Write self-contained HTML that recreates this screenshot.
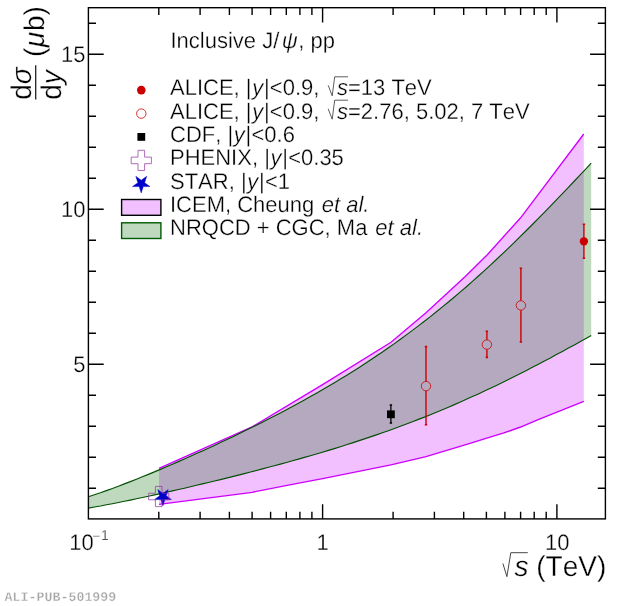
<!DOCTYPE html>
<html><head><meta charset="utf-8"><title>Inclusive J/psi cross section vs sqrt(s)</title>
<style>
html,body{margin:0;padding:0;background:#fff;}
svg{display:block;}
text{text-rendering:geometricPrecision;stroke:#fff;stroke-width:0.3px;font-family:"Liberation Sans",sans-serif;fill:#000;font-kerning:none;}
.lg{font-size:22px;}
.tk{font-size:22px;}
.tt{font-size:28px;}
.it{font-style:italic;}
.mono{font-family:"Liberation Mono","DejaVu Sans Mono",monospace;font-weight:bold;font-size:13.3px;fill:#a6a6a6;}
</style></head><body>
<svg width="620" height="606" viewBox="0 0 620 606">
<rect width="620" height="606" fill="#fff"/>

<polygon points="159.0,468.4 252.1,426.9 322.6,384.6 391.0,342.2 426.0,312.8 465.0,276.8 487.3,254.7 520.6,217.8 583.8,134.0 583.8,401.3 540.0,418.8 520.6,427.0 503.9,432.9 486.8,438.2 470.0,443.4 426.0,456.6 391.0,464.9 322.6,478.6 291.0,484.6 252.1,492.3 159.0,504.3" fill="rgba(204,0,255,0.25)"/>
<polyline points="159.0,468.4 252.1,426.9 322.6,384.6 391.0,342.2 426.0,312.8 465.0,276.8 487.3,254.7 520.6,217.8 583.8,134.0" fill="none" stroke="#cc00ff" stroke-width="1.35"/>
<polyline points="159.0,504.3 252.1,492.3 291.0,484.6 322.6,478.6 391.0,464.9 426.0,456.6 470.0,443.4 486.8,438.2 503.9,432.9 520.6,427.0 540.0,418.8 583.8,401.3" fill="none" stroke="#cc00ff" stroke-width="1.35"/>
<polygon points="88.4,496.8 94.4,494.8 100.4,492.8 106.4,490.6 112.4,488.5 118.4,486.2 124.4,483.9 130.4,481.6 136.4,479.2 142.4,476.8 148.4,474.4 154.4,471.9 160.4,469.4 166.4,466.8 172.4,464.2 178.4,461.6 184.4,459.0 190.4,456.3 196.4,453.6 202.4,450.9 208.4,448.2 214.4,445.4 220.4,442.6 226.4,439.8 232.4,436.9 238.4,434.0 244.4,431.1 250.4,428.1 256.4,425.2 262.4,422.2 268.4,419.1 274.4,416.0 280.4,412.9 286.4,409.7 292.4,406.5 298.4,403.3 304.4,400.0 310.4,396.6 316.4,393.2 322.4,389.8 328.4,386.3 334.4,382.7 340.4,379.1 346.4,375.4 352.4,371.7 358.4,367.9 364.4,364.0 370.4,360.0 376.4,356.0 382.4,352.0 388.4,347.8 394.4,343.6 400.4,339.3 406.4,334.9 412.4,330.4 418.4,325.9 424.4,321.3 430.4,316.6 436.4,311.8 442.4,306.9 448.4,302.0 454.4,297.0 460.4,291.9 466.4,286.7 472.4,281.4 478.4,276.0 484.4,270.6 490.4,265.1 496.4,259.5 502.4,253.8 508.4,248.1 514.4,242.3 520.4,236.4 526.4,230.5 532.4,224.5 538.4,218.4 544.4,212.3 550.4,206.1 556.4,199.9 562.4,193.6 568.4,187.3 574.4,181.0 580.4,174.7 586.4,168.3 591.2,163.2 591.2,335.6 586.4,338.3 580.4,341.6 574.4,344.9 568.4,348.1 562.4,351.4 556.4,354.6 550.4,357.9 544.4,361.0 538.4,364.2 532.4,367.3 526.4,370.4 520.4,373.5 514.4,376.5 508.4,379.5 502.4,382.5 496.4,385.4 490.4,388.3 484.4,391.1 478.4,393.9 472.4,396.6 466.4,399.3 460.4,402.0 454.4,404.6 448.4,407.2 442.4,409.7 436.4,412.2 430.4,414.7 424.4,417.1 418.4,419.4 412.4,421.8 406.4,424.0 400.4,426.3 394.4,428.5 388.4,430.7 382.4,432.8 376.4,434.9 370.4,436.9 364.4,438.9 358.4,440.9 352.4,442.9 346.4,444.8 340.4,446.7 334.4,448.6 328.4,450.4 322.4,452.2 316.4,454.0 310.4,455.7 304.4,457.4 298.4,459.1 292.4,460.8 286.4,462.5 280.4,464.1 274.4,465.7 268.4,467.3 262.4,468.9 256.4,470.5 250.4,472.0 244.4,473.6 238.4,475.1 232.4,476.6 226.4,478.1 220.4,479.6 214.4,481.0 208.4,482.5 202.4,483.9 196.4,485.3 190.4,486.8 184.4,488.2 178.4,489.5 172.4,490.9 166.4,492.3 160.4,493.6 154.4,494.9 148.4,496.3 142.4,497.5 136.4,498.8 130.4,500.1 124.4,501.3 118.4,502.5 112.4,503.7 106.4,504.8 100.4,506.0 94.4,507.0 88.4,508.1" fill="rgba(0,102,0,0.25)"/>
<polyline points="88.4,496.8 94.4,494.8 100.4,492.8 106.4,490.6 112.4,488.5 118.4,486.2 124.4,483.9 130.4,481.6 136.4,479.2 142.4,476.8 148.4,474.4 154.4,471.9 160.4,469.4 166.4,466.8 172.4,464.2 178.4,461.6 184.4,459.0 190.4,456.3 196.4,453.6 202.4,450.9 208.4,448.2 214.4,445.4 220.4,442.6 226.4,439.8 232.4,436.9 238.4,434.0 244.4,431.1 250.4,428.1 256.4,425.2 262.4,422.2 268.4,419.1 274.4,416.0 280.4,412.9 286.4,409.7 292.4,406.5 298.4,403.3 304.4,400.0 310.4,396.6 316.4,393.2 322.4,389.8 328.4,386.3 334.4,382.7 340.4,379.1 346.4,375.4 352.4,371.7 358.4,367.9 364.4,364.0 370.4,360.0 376.4,356.0 382.4,352.0 388.4,347.8 394.4,343.6 400.4,339.3 406.4,334.9 412.4,330.4 418.4,325.9 424.4,321.3 430.4,316.6 436.4,311.8 442.4,306.9 448.4,302.0 454.4,297.0 460.4,291.9 466.4,286.7 472.4,281.4 478.4,276.0 484.4,270.6 490.4,265.1 496.4,259.5 502.4,253.8 508.4,248.1 514.4,242.3 520.4,236.4 526.4,230.5 532.4,224.5 538.4,218.4 544.4,212.3 550.4,206.1 556.4,199.9 562.4,193.6 568.4,187.3 574.4,181.0 580.4,174.7 586.4,168.3 591.2,163.2" fill="none" stroke="#005000" stroke-width="1.15"/>
<polyline points="88.4,508.1 94.4,507.0 100.4,506.0 106.4,504.8 112.4,503.7 118.4,502.5 124.4,501.3 130.4,500.1 136.4,498.8 142.4,497.5 148.4,496.3 154.4,494.9 160.4,493.6 166.4,492.3 172.4,490.9 178.4,489.5 184.4,488.2 190.4,486.8 196.4,485.3 202.4,483.9 208.4,482.5 214.4,481.0 220.4,479.6 226.4,478.1 232.4,476.6 238.4,475.1 244.4,473.6 250.4,472.0 256.4,470.5 262.4,468.9 268.4,467.3 274.4,465.7 280.4,464.1 286.4,462.5 292.4,460.8 298.4,459.1 304.4,457.4 310.4,455.7 316.4,454.0 322.4,452.2 328.4,450.4 334.4,448.6 340.4,446.7 346.4,444.8 352.4,442.9 358.4,440.9 364.4,438.9 370.4,436.9 376.4,434.9 382.4,432.8 388.4,430.7 394.4,428.5 400.4,426.3 406.4,424.0 412.4,421.8 418.4,419.4 424.4,417.1 430.4,414.7 436.4,412.2 442.4,409.7 448.4,407.2 454.4,404.6 460.4,402.0 466.4,399.3 472.4,396.6 478.4,393.9 484.4,391.1 490.4,388.3 496.4,385.4 502.4,382.5 508.4,379.5 514.4,376.5 520.4,373.5 526.4,370.4 532.4,367.3 538.4,364.2 544.4,361.0 550.4,357.9 556.4,354.6 562.4,351.4 568.4,348.1 574.4,344.9 580.4,341.6 586.4,338.3 591.2,335.6" fill="none" stroke="#005000" stroke-width="1.15"/>
<g stroke="#000" stroke-width="1.4" fill="none" stroke-linecap="butt">
<rect x="88.4" y="7.7" width="517.0" height="511.2"/>
<path d="M88.4 488.3h7.6M605.4 488.3h-7.6"/>
<path d="M88.4 457.3h7.6M605.4 457.3h-7.6"/>
<path d="M88.4 426.3h7.6M605.4 426.3h-7.6"/>
<path d="M88.4 395.3h7.6M605.4 395.3h-7.6"/>
<path d="M88.4 364.3h15.3M605.4 364.3h-15.3"/>
<path d="M88.4 333.3h7.6M605.4 333.3h-7.6"/>
<path d="M88.4 302.3h7.6M605.4 302.3h-7.6"/>
<path d="M88.4 271.3h7.6M605.4 271.3h-7.6"/>
<path d="M88.4 240.3h7.6M605.4 240.3h-7.6"/>
<path d="M88.4 209.3h15.3M605.4 209.3h-15.3"/>
<path d="M88.4 178.3h7.6M605.4 178.3h-7.6"/>
<path d="M88.4 147.3h7.6M605.4 147.3h-7.6"/>
<path d="M88.4 116.3h7.6M605.4 116.3h-7.6"/>
<path d="M88.4 85.3h7.6M605.4 85.3h-7.6"/>
<path d="M88.4 54.3h15.3M605.4 54.3h-15.3"/>
<path d="M88.4 23.3h7.6M605.4 23.3h-7.6"/>
<path d="M158.8 518.9v-7.2M158.8 7.7v7.2"/>
<path d="M200.1 518.9v-7.2M200.1 7.7v7.2"/>
<path d="M229.4 518.9v-7.2M229.4 7.7v7.2"/>
<path d="M252.1 518.9v-7.2M252.1 7.7v7.2"/>
<path d="M270.6 518.9v-7.2M270.6 7.7v7.2"/>
<path d="M286.3 518.9v-7.2M286.3 7.7v7.2"/>
<path d="M299.9 518.9v-7.2M299.9 7.7v7.2"/>
<path d="M311.9 518.9v-7.2M311.9 7.7v7.2"/>
<path d="M322.6 518.9v-14.7M322.6 7.7v14.7"/>
<path d="M393.1 518.9v-7.2M393.1 7.7v7.2"/>
<path d="M434.4 518.9v-7.2M434.4 7.7v7.2"/>
<path d="M463.7 518.9v-7.2M463.7 7.7v7.2"/>
<path d="M486.4 518.9v-7.2M486.4 7.7v7.2"/>
<path d="M504.9 518.9v-7.2M504.9 7.7v7.2"/>
<path d="M520.6 518.9v-7.2M520.6 7.7v7.2"/>
<path d="M534.2 518.9v-7.2M534.2 7.7v7.2"/>
<path d="M546.2 518.9v-7.2M546.2 7.7v7.2"/>
<path d="M556.9 518.9v-14.7M556.9 7.7v14.7"/>
</g>
<path d="M390.9 405.0V423.0" stroke="#000" stroke-width="1.3"/><path d="M389.7 405.0h2.4M389.7 423.0h2.4" stroke="#000" stroke-width="1.6"/>
<rect x="387.0" y="410.4" width="7.8" height="7.8" fill="#000"/>
<path d="M426.0 346.6V381.3M426.0 390.9V424.7" stroke="#cc0000" stroke-width="1.4"/>
<path d="M424.8 346.6h2.4M424.8 424.7h2.4" stroke="#cc0000" stroke-width="1.6"/>
<circle cx="426.0" cy="386.1" r="4.7" fill="none" stroke="#cc0000" stroke-width="0.8"/>
<path d="M486.9 331.3V339.8M486.9 349.4V357.4" stroke="#cc0000" stroke-width="1.4"/>
<path d="M485.7 331.3h2.4M485.7 357.4h2.4" stroke="#cc0000" stroke-width="1.6"/>
<circle cx="486.9" cy="344.6" r="4.7" fill="none" stroke="#cc0000" stroke-width="0.8"/>
<path d="M520.9 268.3V300.6M520.9 310.2V342.0" stroke="#cc0000" stroke-width="1.4"/>
<path d="M519.7 268.3h2.4M519.7 342.0h2.4" stroke="#cc0000" stroke-width="1.6"/>
<circle cx="520.9" cy="305.4" r="4.7" fill="none" stroke="#cc0000" stroke-width="0.8"/>
<path d="M583.9 224.2V258.2" stroke="#cc0000" stroke-width="1.4"/><path d="M582.7 224.2h2.4M582.7 258.2h2.4" stroke="#cc0000" stroke-width="1.6"/>
<circle cx="583.9" cy="241.3" r="4.15" fill="#cc0000"/>
<polygon points="162.9,505.7 161.0,499.6 154.5,499.6 159.7,495.7 157.7,489.6 162.9,493.4 168.2,489.6 166.2,495.7 171.4,499.6 164.9,499.6" fill="#0000cc" stroke="#0000cc" stroke-width="0.45" stroke-miterlimit="10"/>
<path d="M155.4 486.4h6.6v6.8h6.8v6.6h-6.8v6.8h-6.6v-6.8h-6.8v-6.6h6.8z" fill="none" stroke="#8f2f9f" stroke-width="0.7"/>
<circle cx="141.3" cy="90.1" r="4.3" fill="#cc0000"/>
<circle cx="141.3" cy="113.6" r="4.7" fill="none" stroke="#cc0000" stroke-width="0.8"/>
<rect x="137.4" y="133.0" width="7.8" height="7.8" fill="#000"/>
<path d="M138.0 150.3h6.6v6.8h6.8v6.6h-6.8v6.8h-6.6v-6.8h-6.8v-6.6h6.8z" fill="none" stroke="#8f2f9f" stroke-width="0.7"/>
<polygon points="141.2,193.0 139.2,186.6 132.5,186.6 137.9,182.7 135.8,176.3 141.2,180.2 146.7,176.3 144.6,182.7 150.0,186.6 143.3,186.6" fill="#0000cc" stroke="#0000cc" stroke-width="0.45" stroke-miterlimit="10"/>
<rect x="121.6" y="199.5" width="39.3" height="15.8" fill="rgba(204,0,255,0.25)" stroke="#000" stroke-width="1.4"/>
<rect x="121.6" y="222.8" width="39.3" height="15.7" fill="rgba(0,102,0,0.25)" stroke="#005a00" stroke-width="1.4"/>
<text class="lg" x="170.5" y="47.55" transform="scale(1,1.020)">Inclusive J/<tspan class="it" dx="2.4">ψ</tspan><tspan dx="0.6">, pp</tspan></text>
<text class="lg" x="170" y="93.43" transform="scale(1,1.020)">ALICE, |<tspan class="it" dx="0.6">y</tspan><tspan dx="0.8">|</tspan><tspan dx="0.2">&lt;</tspan>0.9, </text>
<path d="M328.2 85.3L332.2 95.8L334.7 76.8H348.0" fill="none" stroke="#333" stroke-width="0.8"/>
<text class="lg" x="337" y="93.43" transform="scale(1,1.020)"><tspan class="it">s</tspan>=13 TeV</text>
<text class="lg" x="170" y="116.37" transform="scale(1,1.020)">ALICE, |<tspan class="it" dx="0.6">y</tspan><tspan dx="0.8">|</tspan><tspan dx="0.2">&lt;</tspan>0.9, </text>
<path d="M328.2 108.8L332.2 119.2L334.7 100.2H348.0" fill="none" stroke="#333" stroke-width="0.8"/>
<text class="lg" x="337" y="116.37" transform="scale(1,1.020)"><tspan class="it">s</tspan>=2.76, 5.02, 7 TeV</text>
<text class="lg" x="170" y="139.22" transform="scale(1,1.020)">CDF, |<tspan class="it" dx="0.6">y</tspan><tspan dx="0.8">|</tspan><tspan dx="0.2">&lt;</tspan>0.6</text>
<text class="lg" x="170" y="162.16" transform="scale(1,1.020)">PHENIX, |<tspan class="it" dx="0.6">y</tspan><tspan dx="0.8">|</tspan><tspan dx="0.2">&lt;</tspan>0.35</text>
<text class="lg" x="170" y="185.00" transform="scale(1,1.020)">STAR, |<tspan class="it" dx="0.6">y</tspan><tspan dx="0.8">|</tspan><tspan dx="0.2">&lt;</tspan>1</text>
<text class="lg" x="170" y="207.84" transform="scale(1,1.020)">ICEM, Cheung <tspan class="it" dx="1.3">et al.</tspan></text>
<text class="lg" x="170" y="230.78" transform="scale(1,1.020)">NRQCD + CGC, Ma <tspan class="it" dx="1.8">et al.</tspan></text>
<text class="tk" x="85.4" y="60.98" transform="scale(1,1.020)" text-anchor="end">15</text>
<text class="tk" x="85.4" y="212.94" transform="scale(1,1.020)" text-anchor="end">10</text>
<text class="tk" x="85.4" y="364.90" transform="scale(1,1.020)" text-anchor="end">5</text>
<text class="tk" x="322.6" y="539.41" transform="scale(1,1.020)" text-anchor="middle">1</text>
<text class="tk" x="557.2" y="539.41" transform="scale(1,1.020)" text-anchor="middle">10</text>
<text class="tk" x="69.2" y="539.51" transform="scale(1,1.020)">10<tspan dy="-8.7" dx="-1.5" font-size="14px">−</tspan><tspan dy="-1.1" dx="0.6" font-size="14px">1</tspan></text>
<path d="M502.9 563.5L506.9 576.6L510.8 552.7H527.8" fill="none" stroke="#333" stroke-width="0.9"/>
<text class="tt" x="514.5" y="564.41" transform="scale(1,1.020)"><tspan class="it">s</tspan> (TeV)</text>
<g transform="translate(0,0) rotate(-90)">
<text class="tt" x="-99.8" y="30.88" transform="scale(1,1.020)">d<tspan class="it">σ</tspan></text>
<text class="tt" x="-99.8" y="59.71" transform="scale(1,1.020)">d<tspan class="it">y</tspan></text>
<path d="M-99.6 35.7H-65.2" stroke="#222" stroke-width="1.3"/>
<text class="tt" x="-57" y="43.14" transform="scale(1,1.020)">(<tspan class="it" dx="0.5">μ</tspan><tspan dx="0.8">b)</tspan></text>
</g>
<text class="mono" x="4.6" y="600.8">ALI-PUB-501999</text>
</svg></body></html>
